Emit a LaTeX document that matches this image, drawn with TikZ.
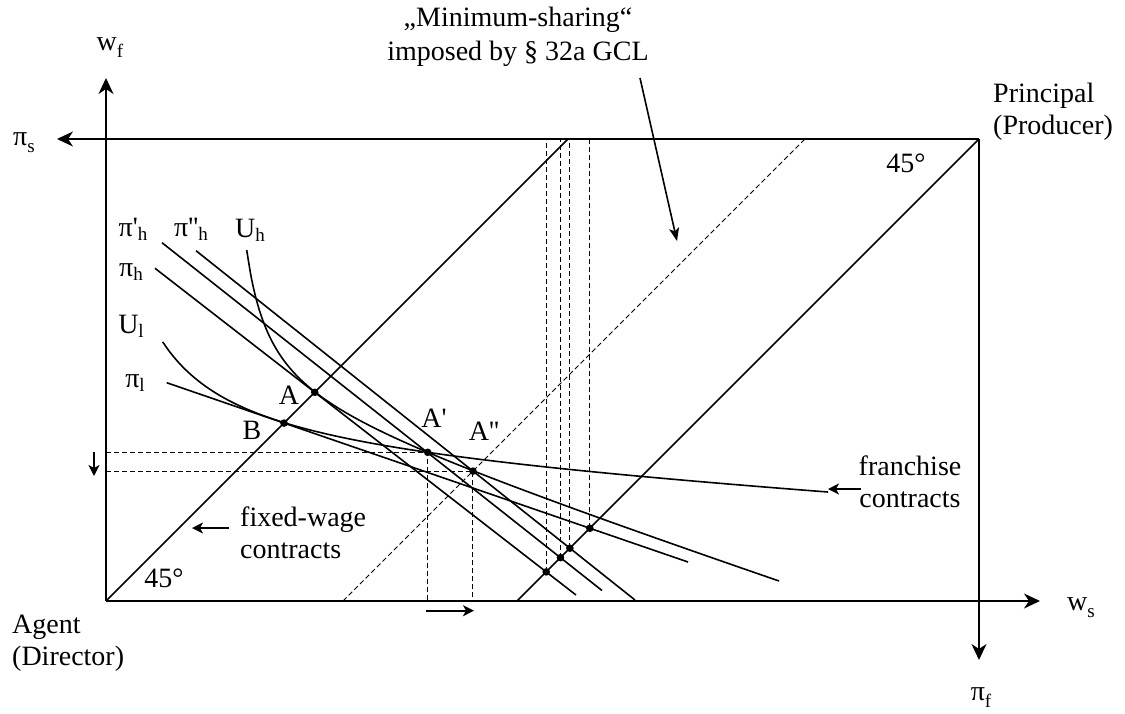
\documentclass[tikz,border=0pt]{standalone}
\usepackage{fontspec}
\setmainfont{Liberation Serif}[Ligatures=TeXOff]
\usetikzlibrary{arrows.meta}
\newcommand\lsub[1]{\raisebox{-4pt}{\fontsize{19}{19}\selectfont #1}}
\newcommand\asub[1]{\raisebox{-7pt}{\fontsize{19}{19}\selectfont #1}}
\begin{document}
\begin{tikzpicture}[x=1pt,y=-1pt,
  every node/.style={font=\fontsize{28}{32}\selectfont, inner sep=0pt},
  axis/.style={line width=2pt, -{Stealth[length=16pt,width=15pt,inset=5pt]}},
  ln/.style={line width=1.6pt},
  dashln/.style={line width=1pt, dash pattern=on 5pt off 3pt},
  sarrow/.style={line width=1.8pt, -{Stealth[length=11pt,width=11pt,inset=3pt]}},
  dot/.style={fill=black}]
\useasboundingbox (0,0) rectangle (1125,713);
% frame coordinates
\coordinate (O) at (106,601);
\coordinate (TL) at (106,139);
\coordinate (TR) at (979,139);
\coordinate (wfTip) at (106,78);
\coordinate (psTip) at (57,139);
\coordinate (wsTip) at (1040,601);
\coordinate (pfTip) at (979,660);
\coordinate (L45top) at (568,139);
\coordinate (R45bot) at (517,601);
\coordinate (Mbot) at (343,601);
\coordinate (Mtop) at (805,139);
% axes
\draw[axis] (O) -- (wfTip);
\draw[axis] (TR) -- (psTip);
\draw[axis] (O) -- (wsTip);
\draw[axis] (TR) -- (pfTip);
% diagonals
\draw[ln] (O) -- (L45top);
\draw[ln] (R45bot) -- (TR);
\draw[dashln] (Mbot) -- (Mtop);
% iso-profit lines
\coordinate (pl1) at (166.7,382.7); \coordinate (pl2) at (688,562);
\coordinate (ph1) at (155,268.3);   \coordinate (ph2) at (576,595);
\coordinate (pp1) at (162,242.7);   \coordinate (pp2) at (602,590.5);
\coordinate (pq1) at (196,250.7);   \coordinate (pq2) at (635,600);
\draw[ln] (pl1) -- (pl2);
\draw[ln] (ph1) -- (ph2);
\draw[ln] (pp1) -- (pp2);
\draw[ln] (pq1) -- (pq2);
% indifference curves
\draw[ln] plot[domain=246.7:779,samples=120,smooth] (\x,{328.5+0.3329*\x-3806.5/(\x-223)});
\draw[ln] plot[domain=162.7:828,samples=120,smooth] (\x,{458.08+0.0583*\x-10769/(\x-77)});
% points
\coordinate (A) at (intersection of ph1--ph2 and O--L45top);
\coordinate (B) at (intersection of pl1--pl2 and O--L45top);
\coordinate (A1) at (427.7,452.3);
\coordinate (A2) at (intersection of pq1--pq2 and Mbot--Mtop);
\coordinate (D1) at (intersection of ph1--ph2 and R45bot--TR);
\coordinate (D2) at (intersection of pp1--pp2 and R45bot--TR);
\coordinate (D3) at (intersection of pq1--pq2 and R45bot--TR);
\coordinate (D4) at (intersection of pl1--pl2 and R45bot--TR);
% dashed helpers
\draw[dashln] (A1 -| O) -- (A1) -- (A1 |- O);
\draw[dashln] (A2 -| O) -- (A2) -- (A2 |- O);
\foreach \d in {D1,D2,D3,D4} \draw[dashln] (\d) -- (\d |- TL);
% dots
\foreach \p in {A,B,A1,A2,D1,D2,D3,D4} \fill[dot] (\p) circle (3.8pt);
% small arrows
\coordinate (da1) at (94,452); \coordinate (da2) at (94,476);
\draw[sarrow] (da1) -- (da2);
\coordinate (ra1) at (426,610.7); \coordinate (ra2) at (474,610.7);
\draw[sarrow] (ra1) -- (ra2);
\coordinate (fw1) at (229,528); \coordinate (fw2) at (192,528);
\draw[sarrow] (fw1) -- (fw2);
\coordinate (fr1) at (861,489); \coordinate (fr2) at (828,489);
\draw[sarrow] (fr1) -- (fr2);
\coordinate (ms1) at (640,78); \coordinate (ms2) at (677,241);
\draw[line width=1.6pt, -{Stealth[length=13pt,width=10pt,inset=3pt]}] (ms1) -- (ms2);
% axis labels
\node (wf) at (110,48) {w\asub{f}};
\node (ps) at (24,143) {π\asub{s}};
\node (ws) at (1081,608) {w\asub{s}};
\node (pf) at (981,698) {π\asub{f}};
\node[align=left, anchor=west] (prin) at (993,112) {Principal\\(Producer)};
\node[align=left, anchor=west] (agent) at (12,643) {Agent\\(Director)};
\node[align=center, font=\fontsize{28}{34}\selectfont] (ms) at (518,37) {„Minimum-sharing“\\imposed by § 32a GCL};
\node (d45a) at (906,163) {45°};
\node (d45b) at (164,578) {45°};
% curve labels
\node (lph1) at (133,229) {π'\lsub{h}};
\node (lph2) at (191,229) {π''\lsub{h}};
\node (luh) at (250,230) {U\lsub{h}};
\node (lph) at (131,272) {π\lsub{h}};
\node (lul) at (131,326) {U\lsub{l}};
\node (lpl) at (135,383) {π\lsub{l}};
\node (lA) at (289,395) {A};
\node (lB) at (252,430) {B};
\node (lA1) at (434,418) {A'};
\node (lA2) at (484,431) {A''};
\node[align=left, anchor=west] (fwt) at (240,533) {fixed-wage\\contracts};
\node[align=center] (frt) at (910,482) {franchise\\contracts};
\end{tikzpicture}
\end{document}
